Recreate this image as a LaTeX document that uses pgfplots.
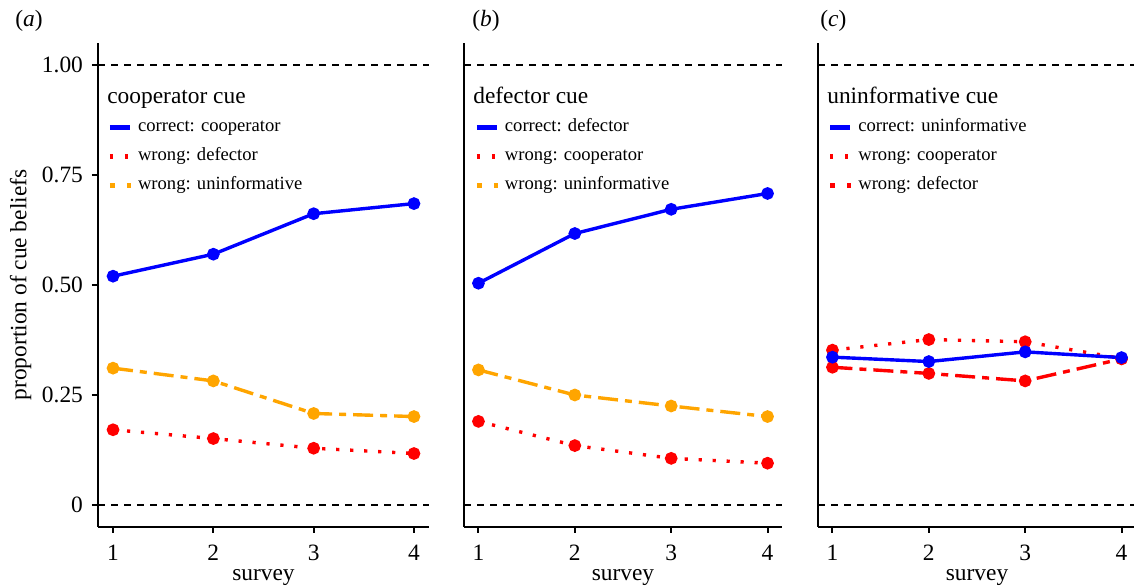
\documentclass[border=0pt]{standalone}
\usepackage{fontspec}
\setmainfont{Liberation Serif}
\usepackage{pgfplots}
\pgfplotsset{compat=1.18}

\definecolor{cblue}{RGB}{0,0,255}
\definecolor{cred}{RGB}{255,0,0}
\definecolor{corange}{RGB}{255,165,0}

\tikzset{
  dotpat/.style={dash pattern=on 1.6pt off 5.4pt},
  twodash/.style={dash pattern=on 10pt off 3.5pt on 3.5pt off 3.5pt},
  ref/.style={black, line width=1pt, dash pattern=on 3.7pt off 2.8pt},
}

\pgfplotsset{
  panel/.style={
    scale only axis, height=242pt,
    xmin=0.85, xmax=4.15, ymin=-0.05, ymax=1.05,
    axis x line*=bottom, axis y line*=left,
    axis line style={line width=1pt, -},
    xtick={1,2,3,4},
    every tick/.style={line width=1pt, black},
    tick align=outside, major tick length=3pt,
    tick label style={font=\fontsize{11.7}{14}\selectfont},
    /pgf/number format/assume math mode=true,
    xticklabel style={yshift=-2.5pt},
    xlabel=survey,
    every axis x label/.style={at={(rel axis cs:0.5,0)}, anchor=base, yshift=-27pt, font=\fontsize{11.7}{14}\selectfont},
    legend style={draw=none, fill=none, anchor=north west, inner sep=0pt,
      row sep=6pt, column sep=2.5pt, font=\fontsize{9.3}{10}\selectfont,
      nodes={inner sep=0pt, text height=6.5pt, text depth=2pt}},
    legend cell align=left,
    series/.style={line width=1.7pt, mark=*, mark size=2.3pt, mark options={solid}, forget plot},
  },
}

\begin{document}
\begin{tikzpicture}
\path[use as bounding box] (0,0) rectangle (567pt,293.5pt);

% panel a
\begin{axis}[panel, at={(49pt,30pt)}, anchor=south west, width=165.5pt,
  ytick={0,0.25,0.5,0.75,1}, yticklabels={0,0.25,0.50,0.75,1.00},
  yticklabel style={xshift=-1pt},
  ylabel={proportion of cue beliefs},
  every axis y label/.style={at={(rel axis cs:-0.18,0.5)}, rotate=90, anchor=south, font=\fontsize{11.7}{14}\selectfont},
  legend style={at={(0.028,0.844)}}]
\addplot[ref, forget plot] coordinates {(0.85,0) (4.15,0)};
\addplot[ref, forget plot] coordinates {(0.85,1) (4.15,1)};
\addlegendimage{legend image code/.code={\draw[cblue, line width=2.2pt] (0pt,0pt) -- (10pt,0pt);}}
\addlegendentry{correct: cooperator}
\addlegendimage{legend image code/.code={\draw[cred, line width=2.2pt, dash pattern=on 1.5pt off 6pt] (0pt,0pt) -- (10pt,0pt);}}
\addlegendentry{wrong: defector}
\addlegendimage{legend image code/.code={\draw[corange, line width=2.2pt, dash pattern=on 2.5pt off 6pt] (0pt,0pt) -- (10.5pt,0pt);}}
\addlegendentry{wrong: uninformative}
\addplot[series, cred, dotpat] coordinates {(1,0.171) (2,0.151) (3,0.129) (4,0.117)};
\addplot[series, corange, twodash] coordinates {(1,0.311) (2,0.282) (3,0.208) (4,0.201)};
\addplot[series, cblue] coordinates {(1,0.520) (2,0.570) (3,0.662) (4,0.685)};
\node[anchor=base west, inner sep=0pt, font=\fontsize{11.7}{14}\selectfont] at (rel axis cs:0.027,0.8754) {cooperator cue};
\end{axis}

% panel b
\begin{axis}[panel, at={(232pt,30pt)}, anchor=south west, width=159pt,
  ytick=\empty,
  legend style={at={(0.032,0.844)}}]
\addplot[ref, forget plot] coordinates {(0.85,0) (4.15,0)};
\addplot[ref, forget plot] coordinates {(0.85,1) (4.15,1)};
\addlegendimage{legend image code/.code={\draw[cblue, line width=2.2pt] (0pt,0pt) -- (10pt,0pt);}}
\addlegendentry{correct: defector}
\addlegendimage{legend image code/.code={\draw[cred, line width=2.2pt, dash pattern=on 1.5pt off 6pt] (0pt,0pt) -- (10pt,0pt);}}
\addlegendentry{wrong: cooperator}
\addlegendimage{legend image code/.code={\draw[corange, line width=2.2pt, dash pattern=on 2.5pt off 6pt] (0pt,0pt) -- (10.5pt,0pt);}}
\addlegendentry{wrong: uninformative}
\addplot[series, cred, dotpat] coordinates {(1,0.190) (2,0.135) (3,0.106) (4,0.095)};
\addplot[series, corange, twodash] coordinates {(1,0.307) (2,0.250) (3,0.225) (4,0.201)};
\addplot[series, cblue] coordinates {(1,0.504) (2,0.617) (3,0.672) (4,0.708)};
\node[anchor=base west, inner sep=0pt, font=\fontsize{11.7}{14}\selectfont] at (rel axis cs:0.028,0.8754) {defector cue};
\end{axis}

% panel c
\begin{axis}[panel, at={(409pt,30pt)}, anchor=south west, width=159pt,
  ytick=\empty,
  legend style={at={(0.03,0.844)}}]
\addplot[ref, forget plot] coordinates {(0.85,0) (4.15,0)};
\addplot[ref, forget plot] coordinates {(0.85,1) (4.15,1)};
\addlegendimage{legend image code/.code={\draw[cblue, line width=2.2pt] (0pt,0pt) -- (10pt,0pt);}}
\addlegendentry{correct: uninformative}
\addlegendimage{legend image code/.code={\draw[cred, line width=2.2pt, dash pattern=on 1.5pt off 6pt] (0pt,0pt) -- (10pt,0pt);}}
\addlegendentry{wrong: cooperator}
\addlegendimage{legend image code/.code={\draw[cred, line width=2.2pt, dash pattern=on 2.5pt off 6pt] (0pt,0pt) -- (10.5pt,0pt);}}
\addlegendentry{wrong: defector}
\addplot[series, cred, dotpat] coordinates {(1,0.352) (2,0.376) (3,0.371) (4,0.333)};
\addplot[series, cred, twodash] coordinates {(1,0.313) (2,0.299) (3,0.282) (4,0.332)};
\addplot[series, cblue] coordinates {(1,0.336) (2,0.326) (3,0.348) (4,0.335)};
\node[anchor=base west, inner sep=0pt, font=\fontsize{11.7}{14}\selectfont] at (rel axis cs:0.028,0.8754) {uninformative cue};
\end{axis}

\node[anchor=base west, inner sep=0pt, font=\fontsize{11.7}{14}\selectfont] at (7.5pt,280pt) {(\textit{a})};
\node[anchor=base west, inner sep=0pt, font=\fontsize{11.7}{14}\selectfont] at (236pt,280pt) {(\textit{b})};
\node[anchor=base west, inner sep=0pt, font=\fontsize{11.7}{14}\selectfont] at (410pt,280pt) {(\textit{c})};
\end{tikzpicture}
\end{document}
